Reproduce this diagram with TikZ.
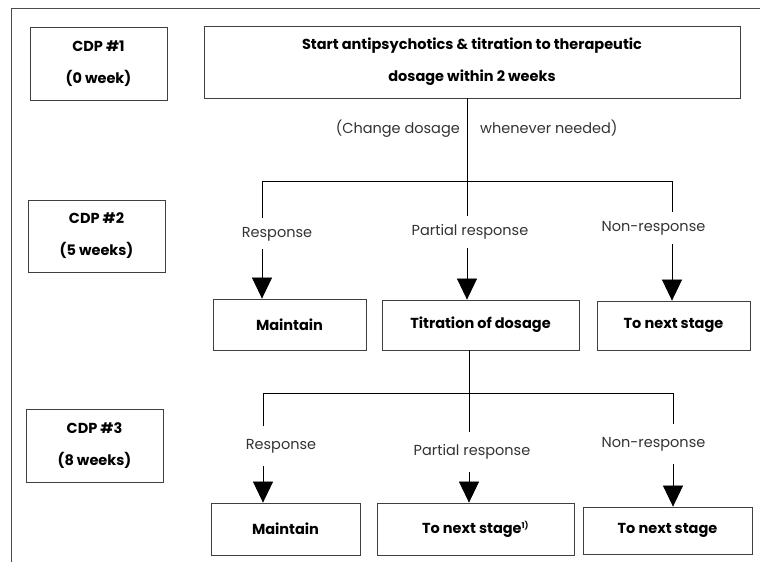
\documentclass[tikz,border=0pt]{standalone}
\usepackage{fontspec}
\setmainfont{Poppins}
\usetikzlibrary{arrows.meta}

\begin{document}
\begin{tikzpicture}[
  x=1pt, y=-1pt,
  box/.style={rectangle, draw=black!75, line width=0.8pt, font=\bfseries\fontsize{14.5}{32}\selectfont, align=center, inner sep=0pt},
  cdpbox/.style={box, minimum width=137pt, minimum height=73pt},
  lbl/.style={font=\fontsize{14.5}{17}\selectfont, text=black!80, text height=10.5pt, text depth=3pt, inner xsep=2pt, inner ysep=9pt},
  lblb/.style={lbl, inner ysep=13pt},
  line/.style={draw, line width=0.7pt},
  arrow/.style={-{Triangle[width=20pt,length=21pt]}, line width=0.7pt}
]
  \useasboundingbox (0,0) rectangle (760,568);

  % outer frame (top and left only)
  \draw[black!70, line width=1pt] (11,562) -- (11,8) -- (760,8);

  % CDP #1 (top)
  \node[cdpbox] (cdp1) at (98.5,63.5) {CDP \#1\\(0 week)};
  \node[box, minimum width=536pt, minimum height=72pt] (start) at (472,62) {Start antipsychotics \& titration to therapeutic\\dosage within 2 weeks};
  \node[lbl, anchor=east, inner ysep=0pt] (chg1) at (462,130) {(Change dosage};
  \node[lbl, anchor=west, inner ysep=0pt] (chg2) at (478,130) {whenever needed)};

  % CDP #2 (middle)
  \node[cdpbox, minimum height=72pt] (cdp2) at (96.5,236) {CDP \#2\\(5 weeks)};
  \coordinate (split1) at (467,181);
  \coordinate (br1l) at (262,181);
  \coordinate (br1r) at (672,181);
  \node[lbl] (resp1) at (277,233.5) {Response};
  \node[lbl] (part1) at (470,232) {Partial response};
  \node[lbl] (non1) at (653.5,228) {Non-response};
  \node[box, minimum width=153pt, minimum height=51pt] (maint1) at (289.5,324.5) {Maintain};
  \node[box, minimum width=197pt, minimum height=50pt] (titr) at (480.5,325) {Titration of dosage};
  \node[box, minimum width=153pt, minimum height=49pt] (next1) at (673.5,325.5) {To next stage};

  % CDP #3 (bottom)
  \node[cdpbox] (cdp3) at (94.5,445.5) {CDP \#3\\(8 weeks)};
  \coordinate (split2) at (469,393);
  \coordinate (br2l) at (263,393);
  \coordinate (br2r) at (673,393);
  \node[lblb] (resp2) at (281,446) {Response};
  \node[lblb] (part2) at (472,452) {Partial response};
  \node[lblb] (non2) at (653.5,444) {Non-response};
  \node[box, minimum width=149pt, minimum height=52pt] (maint2) at (285.5,529) {Maintain};
  \node[box, minimum width=197pt, minimum height=52pt] (next2) at (475.5,529) {To next stage\textsuperscript{\fontsize{8}{8}\selectfont 1)}};
  \node[box, minimum width=169pt, minimum height=47pt] (next3) at (667.5,530.5) {To next stage};

  % branches after CDP #1
  \draw[line] (split1 |- start.south) -- (split1);
  \draw[line] (resp1.north -| br1l) -- (br1l) -- (br1r) -- (non1.north -| br1r);
  \draw[line] (split1) -- (part1.north -| split1);
  \draw[arrow] (resp1.south -| br1l) -- (maint1.north -| br1l);
  \draw[arrow] (part1.south -| split1) -- (titr.north -| split1);
  \draw[arrow] (non1.south -| br1r) -- (next1.north -| br1r);

  % branches after CDP #2
  \draw[line] (split2 |- titr.south) -- (split2);
  \draw[line] (resp2.north -| br2l) -- (br2l) -- (br2r) -- (non2.north -| br2r);
  \draw[line] (split2) -- (part2.north -| split2);
  \draw[arrow] (resp2.south -| br2l) -- (maint2.north -| br2l);
  \draw[arrow] (part2.south -| split2) -- (next2.north -| split2);
  \draw[arrow] (non2.south -| br2r) -- (next3.north -| br2r);

\end{tikzpicture}
\end{document}
